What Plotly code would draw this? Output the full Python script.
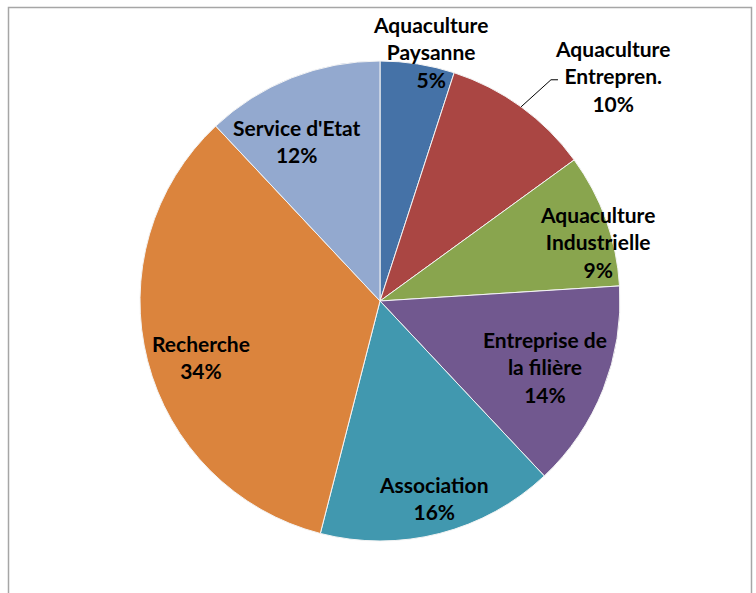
import math
import plotly.graph_objects as go

# Survey breakdown by sector (percent)
categories = [
    "Aquaculture<br>Paysanne",
    "Aquaculture<br>Entrepren.",
    "Aquaculture<br>Industrielle",
    "Entreprise de<br>la filière",
    "Association",
    "Recherche",
    "Service d'Etat",
]
shares = [5, 10, 9, 14, 16, 34, 12]
colors = ["#4572A7", "#AA4643", "#89A54E", "#71588F", "#4198AF", "#DB843D", "#93A9CF"]

# label placement: radius as a fraction of the pie radius, plus small angle nudge (deg)
label_radius = [1.06, 1.35, 0.94, 0.74, 0.85, 0.78, 0.75]
label_nudge = [2.4, 9.9, 4.6, 0.2, -0.9, -2.9, -5.8]

W, H = 756, 593
CX, CY, R = 380, 301, 240  # pie centre and radius in pixels

fig = go.Figure(
    go.Pie(
        values=shares,
        labels=[c.replace("<br>", " ") for c in categories],
        sort=False,
        direction="clockwise",
        rotation=0,
        marker=dict(colors=colors, line=dict(color="#f4f4f4", width=1)),
        textinfo="none",
        hoverinfo="label+percent",
        domain=dict(x=[(CX - R) / W, (CX + R) / W], y=[1 - (CY + R) / H, 1 - (CY - R) / H]),
        showlegend=False,
    )
)

font = dict(family="Lato, 'Open Sans', sans-serif", size=21, color="#000000")
total = sum(shares)
cum = 0
annotations = []
shapes = []
for i, (name, v) in enumerate(zip(categories, shares)):
    mid = (cum + v / 2) / total * 360
    cum += v
    a = math.radians(mid + label_nudge[i])
    px = CX + label_radius[i] * R * math.sin(a)
    py = CY - label_radius[i] * R * math.cos(a)
    annotations.append(
        dict(
            x=px / W, y=1 - py / H, xref="paper", yref="paper",
            text=f"<b>{name}<br>{v}%</b>", showarrow=False,
            xanchor="center", yanchor="middle", align="center", font=font,
        )
    )
    if i == 1:
        # leader line from the slice edge to the outside label
        am = math.radians(mid)
        x0, y0 = CX + R * math.sin(am), CY - R * math.cos(am)
        x1, y1 = CX + 1.165 * R * math.sin(math.radians(mid + 1.7)), CY - 1.165 * R * math.cos(math.radians(mid + 1.7))
        x2 = x1 + 7
        shapes.append(
            dict(
                type="path", xref="paper", yref="paper",
                path=f"M {x0/W},{1-y0/H} L {x1/W},{1-y1/H} L {x2/W},{1-y1/H}",
                line=dict(color="#000000", width=1),
            )
        )

# chart area frame
shapes.append(
    dict(type="rect", xref="paper", yref="paper",
         x0=8.5 / W, x1=751.5 / W, y0=-0.02, y1=1 - 7.5 / H,
         line=dict(color="#a6a6a6", width=1.5), fillcolor="rgba(0,0,0,0)")
)

fig.update_layout(
    width=W, height=H,
    margin=dict(l=0, r=0, t=0, b=0),
    paper_bgcolor="#ffffff",
    plot_bgcolor="#ffffff",
    annotations=annotations,
    shapes=shapes,
)

fig.write_html("out.html")
